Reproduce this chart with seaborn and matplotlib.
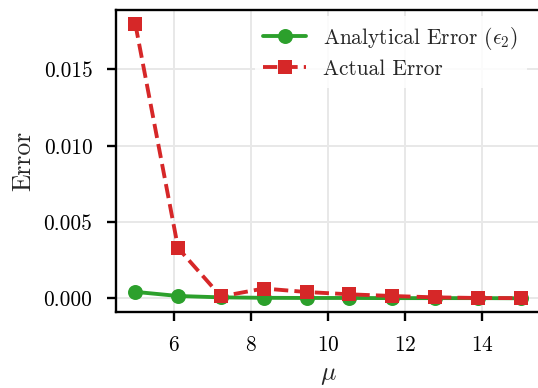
import numpy as np
import pandas as pd
import matplotlib
matplotlib.use("Agg")
import matplotlib.pyplot as plt
import seaborn as sns

# Regularisation parameter values
mu = [5.0, 6.111, 7.222, 8.333, 9.444, 10.556, 11.667, 12.778, 13.889, 15.0]
# Error bound from the analysis
analytical_error = [0.00042, 0.00015, 0.00006, 0.00003, 0.00002, 0.00002, 0.00001, 0.00001, 0.00001, 0.00000]
# Measured error
actual_error = [0.0180, 0.00329, 0.00012, 0.00064, 0.00041, 0.00026, 0.00015, 0.00006, 0.00002, 0.00001]

label_analytical = r"Analytical Error ($\epsilon_2$)"
label_actual = "Actual Error"

sns.set_style("ticks")
plt.rcParams.update({
    "font.family": "serif",
    "font.serif": ["cmr10"],
    "mathtext.fontset": "cm",
    "axes.formatter.use_mathtext": True,
    "axes.unicode_minus": False,
    "axes.edgecolor": "black",
    "axes.linewidth": 1.1,
    "xtick.major.size": 4,
    "ytick.major.size": 4,
    "xtick.major.width": 1.1,
    "ytick.major.width": 1.1,
    "xtick.major.pad": 7,
    "ytick.major.pad": 7,
    "xtick.color": "black",
    "ytick.color": "black",
})

df = pd.DataFrame({"mu": mu, "analytical": analytical_error, "actual": actual_error})

dpi = 154
fig = plt.figure(figsize=(538 / dpi, 388 / dpi), dpi=dpi)
ax = fig.add_axes([116 / 538, 1 - 312 / 388, (540 - 116) / 538, (312 - 10) / 388])

sns.lineplot(data=df, x="mu", y="analytical", ax=ax, color="#2ca02c", marker="o",
             markersize=7, markeredgewidth=0, linewidth=1.8, label=label_analytical)
sns.lineplot(data=df, x="mu", y="actual", ax=ax, color="#d62728", marker="s",
             markersize=7, markeredgewidth=0, linewidth=1.8, linestyle="--",
             label=label_actual)

ax.grid(True, color="#e8e8e8", linewidth=0.9)
ax.set_axisbelow(True)
ax.set_xticks([6, 8, 10, 12, 14])
ax.set_yticks([0.0, 0.005, 0.010, 0.015])
ax.set_yticklabels(["0.000", "0.005", "0.010", "0.015"])
ax.tick_params(labelsize=10)
ax.set_xlabel(r"$\mu$", fontsize=12)
ax.set_ylabel("Error", fontsize=12)

leg = ax.legend(loc="upper right", bbox_to_anchor=(1 - 7 / 424, 1), fontsize=10,
                frameon=True, framealpha=0.85, edgecolor="none", facecolor="white",
                borderaxespad=0.3, labelspacing=0.35)

fig.savefig("out.png", dpi=dpi)
